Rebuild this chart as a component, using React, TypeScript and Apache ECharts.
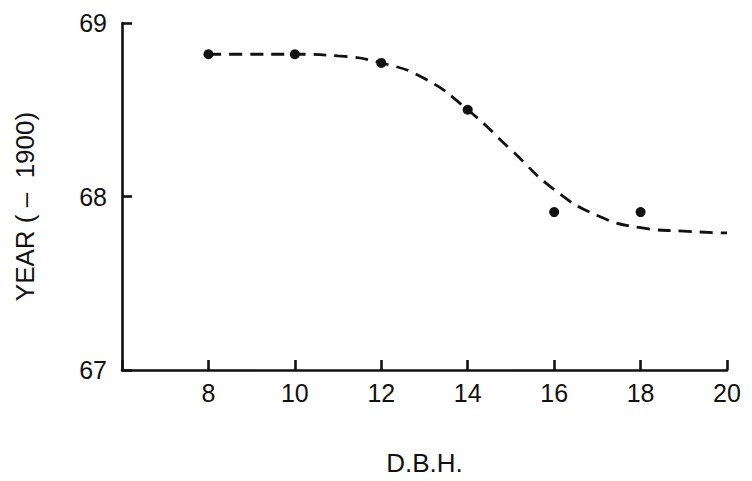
import React, { useEffect, useRef } from "react";
import * as echarts from "echarts";

const pointX = [8, 10, 12, 14, 16, 18];
const pointY = [68.82, 68.82, 68.77, 68.5, 67.91, 67.91];

const curveX = [8, 10, 11, 12, 13, 14, 15, 16, 17, 18, 19, 20];
const curveY = [68.82, 68.82, 68.81, 68.77, 68.68, 68.5, 68.27, 68.04, 67.89, 67.82, 67.8, 67.79];

const xTickLabels = ["8", "10", "12", "14", "16", "18", "20"];
const yTickLabels = ["67", "68", "69"];

const FONT = "'Liberation Sans', Arial, Helvetica, sans-serif";
const INK = "#111";

export default function App() {
  const ref = useRef<HTMLDivElement>(null);
  useEffect(() => {
    document.body.style.margin = "0";
    const chart = echarts.init(ref.current!, null, { renderer: "svg" });
    chart.setOption({
      animation: false,
      backgroundColor: "#ffffff",
      grid: { left: 122, right: 25, top: 23, bottom: 109, containLabel: false },
      xAxis: {
        type: "value",
        min: 6,
        max: 20,
        interval: 2,
        name: "D.B.H.",
        nameLocation: "middle",
        nameGap: 80,
        nameTextStyle: { fontFamily: FONT, fontSize: 26, color: INK },
        axisLine: { show: true, lineStyle: { color: INK, width: 2.6 } },
        axisTick: { show: true, inside: true, length: 10, lineStyle: { color: INK, width: 2.6 } },
        axisLabel: {
          fontFamily: FONT,
          fontSize: 25,
          color: INK,
          margin: 10,
          formatter: (v: number) => (xTickLabels.includes(String(v)) ? String(v) : ""),
        },
        splitLine: { show: false },
      },
      yAxis: {
        type: "value",
        min: 67,
        max: 69,
        interval: 1,
        name: "YEAR ( \u2013  1900)",
        nameLocation: "middle",
        nameGap: 84,
        nameRotate: 90,
        nameTextStyle: { fontFamily: FONT, fontSize: 26, color: INK, padding: [0, 20, 0, 0] },
        axisLine: { show: true, lineStyle: { color: INK, width: 2.6 } },
        axisTick: { show: true, inside: true, length: 10, lineStyle: { color: INK, width: 2.6 } },
        axisLabel: {
          fontFamily: FONT,
          fontSize: 25,
          color: INK,
          margin: 15,
          formatter: (v: number) => (yTickLabels.includes(String(v)) ? String(v) : ""),
        },
        splitLine: { show: false },
      },
      series: [
        {
          type: "line",
          data: curveX.map((x, i) => [x, curveY[i]]),
          smooth: 0.5,
          showSymbol: false,
          symbol: "none",
          lineStyle: { color: "#111", width: 2.8, type: [13, 8] },
          z: 2,
        },
        {
          type: "scatter",
          data: pointX.map((x, i) => [x, pointY[i]]),
          symbol: "circle",
          symbolSize: 10,
          itemStyle: { color: "#111", opacity: 1 },
          z: 3,
        },
      ],
    });
    return () => chart.dispose();
  }, []);
  return <div ref={ref} style={{ width: 752, height: 481 }} />;
}
